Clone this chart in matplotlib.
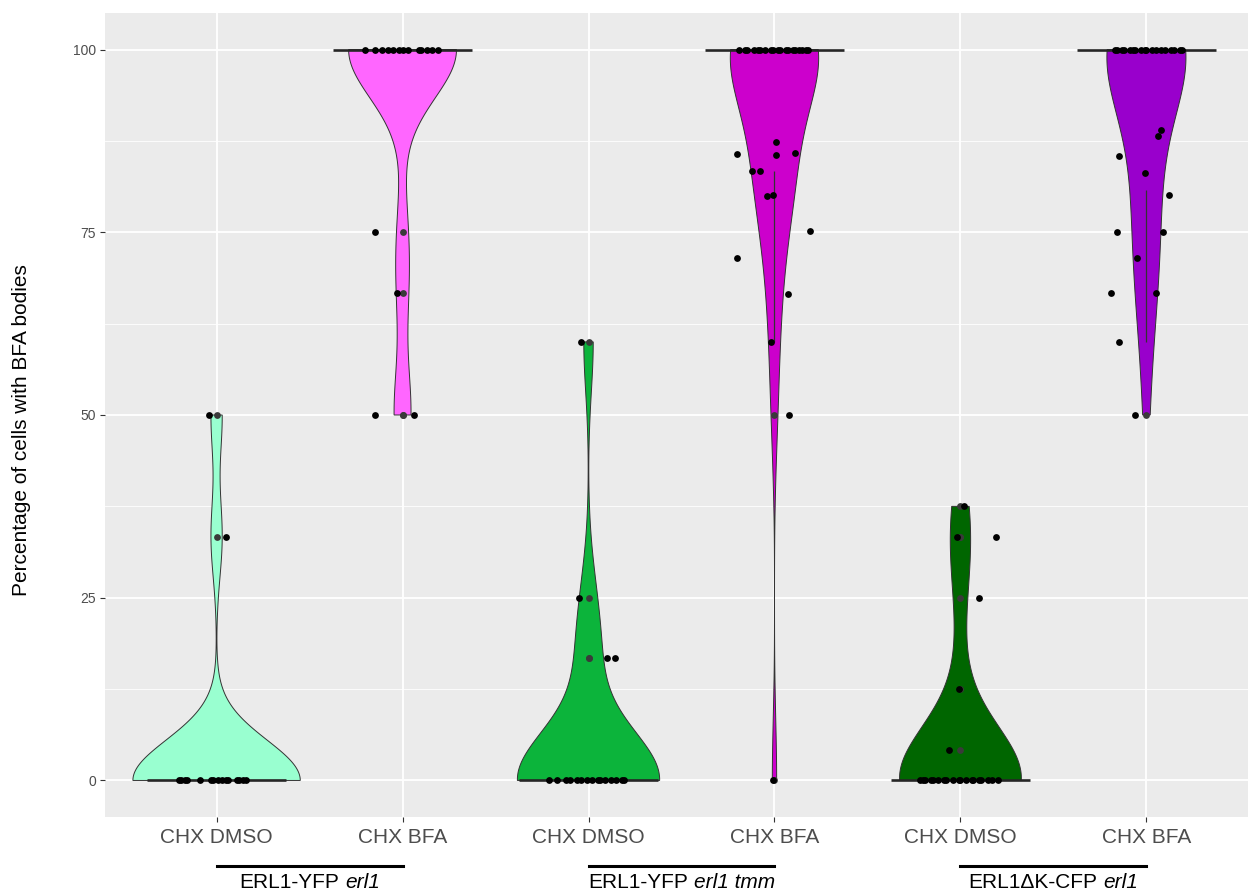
import numpy as np
import matplotlib
matplotlib.use("Agg")
import matplotlib.pyplot as plt
from matplotlib.transforms import blended_transform_factory

plt.rcParams["font.family"] = ["Liberation Sans", "DejaVu Sans"]

# ---- data ----
categories = ["CHX DMSO", "CHX BFA", "CHX DMSO", "CHX BFA", "CHX DMSO", "CHX BFA"]
strain_names = ["ERL1-YFP", "ERL1-YFP", "ERL1ΔK-CFP"]
strain_alleles = ["erl1", "erl1 tmm", "erl1"]
fill_colors = ["#99FFD0", "#FF66FF", "#0CB43B", "#CC00CC", "#006600", "#9900CC"]

erl1_dmso = [0, 0, 0, 0, 0, 0, 0, 0, 0, 0, 0, 0, 0, 0, 0, 33.3, 50]
erl1_dmso_jit = [-0.20, -0.19, -0.17, -0.16, -0.09, -0.03, -0.02, 0.01, 0.03, 0.05,
                 0.06, 0.11, 0.12, 0.14, 0.16, 0.05, -0.04]

erl1_bfa = [100, 100, 100, 100, 100, 100, 100, 100, 100, 100, 100, 100, 100,
            75, 66.7, 50, 50]
erl1_bfa_jit = [-0.20, -0.15, -0.11, -0.08, -0.05, -0.02, 0.0, 0.03, 0.09, 0.10,
                0.13, 0.16, 0.19, -0.15, -0.03, -0.15, 0.06]

tmm_dmso = [0, 0, 0, 0, 0, 0, 0, 0, 0, 0, 0, 0, 0, 0, 0, 60, 25, 16.7, 16.7]
tmm_dmso_jit = [-0.21, -0.17, -0.12, -0.10, -0.06, -0.04, -0.01, 0.02, 0.05, 0.06,
                0.09, 0.12, 0.15, 0.18, 0.19, -0.04, -0.05, 0.10, 0.14]

tmm_bfa = [100, 100, 100, 100, 100, 100, 100, 100, 100, 100, 100, 100, 100, 100,
           100, 100, 100, 100, 100,
           87.4, 85.9, 85.7, 85.6, 83.4, 83.4, 80.1, 80.0, 75.2, 71.5, 66.5, 60.0,
           50.0, 0.0]
tmm_bfa_jit = [-0.19, -0.16, -0.15, -0.11, -0.09, -0.08, -0.05, -0.02, -0.01, 0.02,
               0.03, 0.06, 0.07, 0.10, 0.11, 0.13, 0.15, 0.17, 0.18,
               0.01, 0.11, -0.20, 0.01, -0.12, -0.08, -0.01, -0.04, 0.19, -0.20,
               0.07, -0.02, 0.08, -0.01]

dk_dmso = [0, 0, 0, 0, 0, 0, 0, 0, 0, 0, 0, 0, 0, 0, 0, 0, 0, 0, 0,
           37.5, 33.3, 33.3, 25, 12.5, 4.2]
dk_dmso_jit = [-0.22, -0.20, -0.19, -0.16, -0.15, -0.12, -0.09, -0.08, -0.04, -0.01,
               0.0, 0.03, 0.06, 0.07, 0.10, 0.11, 0.15, 0.17, 0.20,
               0.02, -0.02, 0.19, 0.10, -0.01, -0.06]

dk_bfa = [100, 100, 100, 100, 100, 100, 100, 100, 100, 100, 100, 100, 100, 100,
          100, 100, 100, 100,
          89.0, 88.2, 85.5, 83.1, 80.1, 75.0, 75.0, 71.5, 66.7, 66.7, 60.0, 50.0]
dk_bfa_jit = [-0.17, -0.16, -0.13, -0.12, -0.09, -0.07, -0.06, -0.03, -0.01, 0.0,
              0.03, 0.05, 0.08, 0.10, 0.13, 0.15, 0.18, 0.19,
              0.08, 0.06, -0.15, -0.01, 0.12, -0.16, 0.09, -0.05, -0.19, 0.05,
              -0.15, -0.06]

groups = [erl1_dmso, erl1_bfa, tmm_dmso, tmm_bfa, dk_dmso, dk_bfa]
jitters = [erl1_dmso_jit, erl1_bfa_jit, tmm_dmso_jit, tmm_bfa_jit, dk_dmso_jit, dk_bfa_jit]

# violin look (kernel bandwidth and max width per violin)
bandwidths = [5.5, 6.6, 6.8, 8.0, 7.0, 8.5]
violin_widths = [0.90, 0.58, 0.765, 0.475, 0.655, 0.425]


def kde(vals, grid, bw):
    d = (grid[:, None] - vals[None, :]) / bw
    return np.exp(-0.5 * d ** 2).sum(axis=1) / (len(vals) * bw * np.sqrt(2 * np.pi))


fig = plt.figure(figsize=(12.48, 8.92), dpi=100)
ax = fig.add_axes([105 / 1248, 75 / 892, 1153 / 1248, 804 / 892])
ax.set_facecolor("#EBEBEB")
for s in ax.spines.values():
    s.set_visible(False)

for i, (vals, jit) in enumerate(zip(groups, jitters)):
    pos = i + 1
    v = np.array(vals, dtype=float)
    ys = np.linspace(v.min(), v.max(), 512)
    dens = kde(v, ys, bandwidths[i])
    half = dens / dens.max() * violin_widths[i] / 2
    xs = np.concatenate([pos - half, (pos + half)[::-1]])
    yy = np.concatenate([ys, ys[::-1]])
    ax.fill(xs, yy, facecolor=fill_colors[i], edgecolor="#333333", lw=0.7, zorder=2)

    # boxplot pieces: median, whiskers, outliers
    q1, med, q3 = np.percentile(v, [25, 50, 75])
    iqr = q3 - q1
    lo_f, hi_f = q1 - 1.5 * iqr, q3 + 1.5 * iqr
    wlo = v[v >= lo_f].min()
    whi = v[v <= hi_f].max()
    if wlo < q1:
        ax.vlines(pos, wlo, q1, color="#333333", lw=0.9, zorder=3)
    if whi > q3:
        ax.vlines(pos, q3, whi, color="#333333", lw=0.9, zorder=3)
    ax.hlines(med, pos - 0.375, pos + 0.375, color="#262626", lw=1.9, zorder=3)
    out = v[(v < lo_f) | (v > hi_f)]
    ax.scatter(np.full(len(out), pos), out, s=24, color="#3a3a3a", linewidths=0, zorder=3)

    ax.scatter(pos + np.array(jit), v, s=24, color="black", linewidths=0, zorder=4)

ax.set_xlim(0.4, 6.6)
ax.set_ylim(-5, 105)
ax.set_xticks(range(1, 7))
ax.set_xticklabels(categories, fontsize=15, color="#4D4D4D")
ax.set_yticks([0, 25, 50, 75, 100])
ax.set_yticklabels(["0", "25", "50", "75", "100"], fontsize=10, color="#4D4D4D")
ax.set_yticks([12.5, 37.5, 62.5, 87.5], minor=True)
ax.tick_params(axis="both", which="major", length=3.6, width=0.8, color="#333333")
ax.tick_params(axis="x", pad=4)
ax.tick_params(axis="y", pad=3)
ax.tick_params(axis="y", which="minor", length=0)
ax.grid(True, which="major", color="white", lw=1.3)
ax.grid(True, which="minor", axis="y", color="white", lw=0.6)
ax.set_axisbelow(True)

fig.text(22 / 1248, (892 - 430) / 892, "Percentage of cells with BFA bodies",
         rotation=90, ha="center", va="center", fontsize=15)

# strain brackets under the axis, with italic allele names
renderer = fig.canvas.get_renderer()
trans = blended_transform_factory(ax.transData, fig.transFigure)
W = fig.bbox.width
space = 15 * 0.278 * fig.dpi / 72
for k in range(len(strain_names)):
    a, b = 2 * k + 1, 2 * k + 2
    ax.plot([a, b], [26 / 892, 26 / 892], color="black", lw=2.2,
            transform=trans, clip_on=False)
    t1 = fig.text(0, 19 / 892, strain_names[k], ha="left", va="top", fontsize=15)
    t2 = fig.text(0, 19 / 892, strain_alleles[k], ha="left", va="top", fontsize=15,
                  style="italic")
    w1 = t1.get_window_extent(renderer).width
    w2 = t2.get_window_extent(renderer).width
    cx = ax.transData.transform(((a + b) / 2, 0))[0]
    x0 = cx - (w1 + space + w2) / 2
    t1.set_x(x0 / W)
    t2.set_x((x0 + w1 + space) / W)

fig.savefig("out.png", dpi=100)
